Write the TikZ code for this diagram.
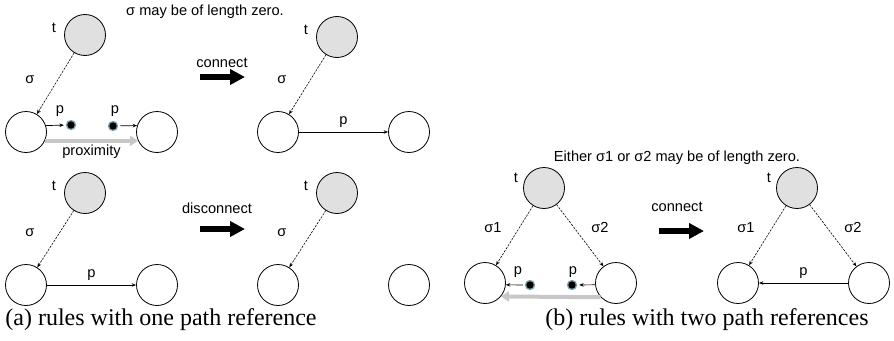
\documentclass[tikz,border=0pt]{standalone}
\usepackage{fontspec}
\setmainfont{Liberation Serif}
\setsansfont{Liberation Sans}
\usetikzlibrary{arrows.meta,positioning}

\begin{document}
\begin{tikzpicture}[
  x=1pt,y=-1pt,
  line cap=round,line join=round,
  every node/.style={font=\sffamily\fontsize{14.6}{16}\selectfont,inner sep=1pt},
  vtx/.style={circle,draw,line width=0.8pt,minimum size=41pt,inner sep=0pt},
  tvtx/.style={vtx,fill=black!12},
  hole/.style={circle,fill=black,draw=cyan!25!gray,line width=1.3pt,minimum size=9pt,inner sep=0pt},
  sig/.style={line width=0.6pt,dash pattern=on 2pt off 1.5pt,-{Stealth[length=4.5pt,width=3.5pt]}},
  pth/.style={line width=0.7pt,-{Stealth[length=4.5pt,width=3.5pt]}},
  prox/.style={line width=4pt,line cap=butt,black!22,-{Triangle[length=8pt,width=10pt]}},
  rulearrow/.style={line width=6pt,line cap=butt,-{Triangle[length=15pt,width=15pt]}},
  subcap/.style={font=\rmfamily\fontsize{24}{28}\selectfont}
]
  \useasboundingbox (0,0) rectangle (894,340);

  % (a) one path reference: target, start and end vertex in each quarter
  \foreach \i/\tx/\ty/\ux/\uy in {1/85/35/26/132, 2/337/37/278/132,
                                  3/85/193/26/285, 4/337/193/278/285}{
    \node[tvtx] (t\i) at (\tx,\ty) {};
    \node[vtx] (u\i) at (\ux,\uy) {};
    \node[vtx] (v\i) at (\ux+131,\uy) {};
    \node at (\tx-31,\ty-7) {t};
    \node at (\ux+4,\uy-52) {σ};
    \draw[sig] (t\i) -- (u\i);
  }

  % path ends that are close to each other
  \node[hole] (h1) at (71,125) {};
  \node[hole] (h2) at (113,126) {};
  \draw[pth,shorten >=2pt] (u1.18) -- (h1);
  \draw[pth,shorten <=2pt] (h2) -- (v1.162);
  \node at (60,111) {p};
  \node at (115,111) {p};
  \draw[prox] (u1.-25) -- (v1.205) node[midway,below=1pt,text=black] {proximity};

  \draw[pth] (u2) -- (v2) node[midway,above=3pt] {p};
  \draw[pth] (u3) -- (v3) node[midway,above=3pt] {p};

  \node (note1) at (205,12) {σ may be of length zero.};

  % rewrite arrows
  \coordinate (r1a) at (200,77);
  \coordinate (r1b) at (245,77);
  \draw[rulearrow] (r1a) -- (r1b);
  \node[above=8pt of r1a,xshift=22pt] {connect};
  \coordinate (r2a) at (200,229);
  \coordinate (r2b) at (245,229);
  \draw[rulearrow] (r2a) -- (r2b);
  \node[above=14pt of r2a,xshift=17pt] {disconnect};

  % (b) two path references
  \foreach \i/\x in {5/544,6/797}{
    \node[tvtx] (t\i) at (\x,188) {};
    \node[vtx] (u\i) at (\x-59,283) {};
    \node[vtx] (v\i) at (\x+72,283) {};
    \node at (\x-28,178) {t};
    \node at (\x-51,228) {σ1};
    \node at (\x+56,227) {σ2};
    \draw[sig] (t\i) -- (u\i);
    \draw[sig] (t\i) -- (v\i);
  }

  \node[hole] (h3) at (530,285) {};
  \node[hole] (h4) at (572,285) {};
  \draw[pth,shorten <=2pt] (h3) -- (u5.-5);
  \draw[pth,shorten >=2pt] (v5.185) -- (h4);
  \node at (518,272) {p};
  \node at (573,272) {p};
  \draw[prox] (v5.223) -- (u5.-40);

  \draw[pth] (v6) -- (u6) node[midway,above=3pt] {p};

  \node (note2) at (677,158) {Either σ1 or σ2 may be of length zero.};

  \coordinate (r3a) at (659,231);
  \coordinate (r3b) at (704,231);
  \draw[rulearrow] (r3a) -- (r3b);
  \node[above=18pt of r3a,xshift=18pt] {connect};

  % captions
  \node[subcap] (capa) at (161,320) {(a) rules with one path reference};
  \node[subcap] (capb) at (707,320) {(b) rules with two path references};
\end{tikzpicture}
\end{document}
